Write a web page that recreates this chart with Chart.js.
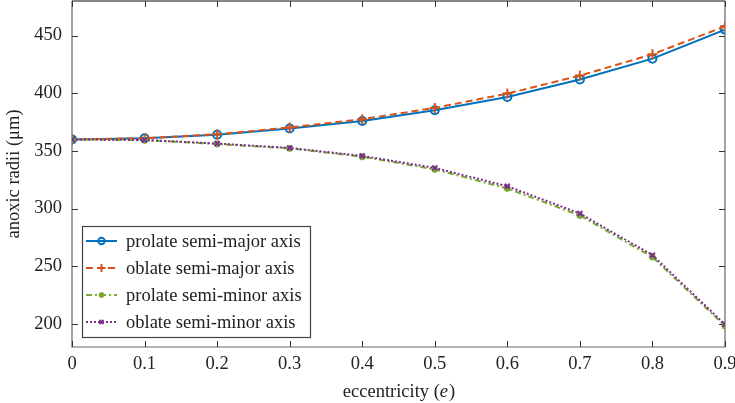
<!DOCTYPE html>
<html><head><meta charset="utf-8">
<script src="https://cdn.jsdelivr.net/npm/chart.js@4/dist/chart.umd.min.js"></script>
<style>html,body{margin:0;padding:0;background:#fff}#wrap{width:735px;height:403px}</style>
</head><body><div id="wrap"><canvas id="c" width="735" height="403"></canvas></div>
<script>
const eccentricity = [0, 0.1, 0.2, 0.3, 0.4, 0.5, 0.6, 0.7, 0.8, 0.9];
const prolateMajor = [360, 361, 364, 369.4, 376, 385.3, 396.8, 412, 430, 455.2];
const oblateMajor  = [360, 361, 364.5, 370.3, 377.5, 387.3, 399.7, 415.3, 433.8, 458];
const prolateMinor = [360, 359.3, 356, 352.2, 345, 334, 317.5, 294, 258, 198.2];
const oblateMinor  = [360, 359.5, 356.4, 352.6, 345.7, 335.3, 319.4, 295.8, 259.6, 199.6];
const seriesNames = ['prolate semi-major axis', 'oblate semi-major axis', 'prolate semi-minor axis', 'oblate semi-minor axis'];
const xTicks = [0, 0.1, 0.2, 0.3, 0.4, 0.5, 0.6, 0.7, 0.8, 0.9];
const yTicks = [200, 250, 300, 350, 400, 450];

const FONT = '"Liberation Serif", "Times New Roman", serif';
const FS = 18.5;
const pts = arr => arr.map((v, i) => ({x: eccentricity[i], y: v}));

const datasets = [
  {label: seriesNames[0], data: pts(prolateMajor), order: 3, borderColor: '#0072BD', borderWidth: 2, borderDash: [],
   pointStyle: 'circle', pointRadius: 4, pointBorderWidth: 2, pointBackgroundColor: 'rgba(0,0,0,0)', pointBorderColor: '#0072BD'},
  {label: seriesNames[1], data: pts(oblateMajor), order: 2, borderColor: '#D95319', borderWidth: 2, borderDash: [7, 4],
   pointStyle: 'cross', pointRadius: 5, pointBorderWidth: 2, pointBackgroundColor: '#D95319', pointBorderColor: '#D95319'},
  {label: seriesNames[2], data: pts(prolateMinor), order: 1, borderColor: '#77AC30', borderWidth: 2, borderDash: [6, 3, 2, 3],
   pointStyle: 'star', pointRadius: 3.5, pointBorderWidth: 2, pointBackgroundColor: '#77AC30', pointBorderColor: '#77AC30'},
  {label: seriesNames[3], data: pts(oblateMinor), order: 0, borderColor: '#7E2F8E', borderWidth: 2, borderDash: [2, 2],
   pointStyle: 'crossRot', pointRadius: 3.5, pointBorderWidth: 2, pointBackgroundColor: '#7E2F8E', pointBorderColor: '#7E2F8E'}
];

const framePlugin = {
  id: 'frame',
  beforeDatasetsDraw(chart) {
    const {ctx, chartArea: a, scales: {x, y}} = chart;
    ctx.save();
    ctx.lineWidth = 1.2;
    ctx.strokeStyle = '#666';
    ctx.beginPath();
    ctx.moveTo(a.left, a.top); ctx.lineTo(a.left, a.bottom); ctx.lineTo(a.right, a.bottom); ctx.lineTo(a.right, a.top);
    ctx.stroke();
    ctx.strokeStyle = '#111';
    ctx.beginPath(); ctx.moveTo(a.left, a.top); ctx.lineTo(a.right, a.top); ctx.stroke();
    ctx.lineWidth = 1;
    ctx.strokeStyle = '#333';
    const tl = 6;
    ctx.beginPath();
    xTicks.forEach(t => {
      const px = Math.round(x.getPixelForValue(t)) + 0.5;
      ctx.moveTo(px, a.bottom); ctx.lineTo(px, a.bottom - tl);
      ctx.moveTo(px, a.top); ctx.lineTo(px, a.top + tl);
    });
    yTicks.forEach(t => {
      const py = Math.round(y.getPixelForValue(t)) + 0.5;
      ctx.moveTo(a.left, py); ctx.lineTo(a.left + tl, py);
      ctx.moveTo(a.right, py); ctx.lineTo(a.right - tl, py);
    });
    ctx.stroke();
    ctx.restore();
  },
  afterDraw(chart) {
    const {ctx, chartArea: a} = chart;
    ctx.save();
    ctx.fillStyle = '#222';
    ctx.textBaseline = 'middle';
    const cy = 392;
    const p1 = 'eccentricity (', p2 = 'e', p3 = ')';
    ctx.font = FS + 'px ' + FONT;
    const w1 = ctx.measureText(p1).width, w3 = ctx.measureText(p3).width;
    ctx.font = 'italic ' + FS + 'px ' + FONT;
    const w2 = ctx.measureText(p2).width;
    let sx = (a.left + a.right) / 2 - (w1 + w2 + w3) / 2;
    ctx.textAlign = 'left';
    ctx.font = FS + 'px ' + FONT; ctx.fillText(p1, sx, cy);
    ctx.font = 'italic ' + FS + 'px ' + FONT; ctx.fillText(p2, sx + w1, cy);
    ctx.font = FS + 'px ' + FONT; ctx.fillText(p3, sx + w1 + w2 + 1, cy);

    const bx = 82, by = 226, bw = 228, bh = 111;
    ctx.fillStyle = '#fff';
    ctx.fillRect(bx, by, bw, bh);
    ctx.strokeStyle = '#444';
    ctx.lineWidth = 1.2;
    ctx.strokeRect(bx + 0.5, by + 0.5, bw, bh);
    const rows = [241, 268, 295, 322];
    chart.data.datasets.forEach((ds, i) => {
      const ry = rows[i];
      ctx.save();
      ctx.strokeStyle = ds.borderColor;
      ctx.lineWidth = ds.borderWidth;
      ctx.setLineDash(ds.borderDash);
      ctx.beginPath(); ctx.moveTo(86, ry); ctx.lineTo(117, ry); ctx.stroke();
      ctx.setLineDash([]);
      ctx.strokeStyle = ds.pointBorderColor;
      ctx.fillStyle = ds.pointBackgroundColor;
      ctx.lineWidth = ds.pointBorderWidth;
      Chart.helpers.drawPoint(ctx, {pointStyle: ds.pointStyle, radius: ds.pointRadius * 0.8, borderWidth: ds.pointBorderWidth, rotation: 0}, 101.5, ry);
      ctx.restore();
      ctx.fillStyle = '#222';
      ctx.font = FS + 'px ' + FONT;
      ctx.textAlign = 'left';
      ctx.textBaseline = 'middle';
      ctx.fillText(ds.label, 126, ry + 1);
    });
    ctx.restore();
  }
};

const noPad = s => {
  s.paddingTop = 0; s.paddingBottom = 0; s.paddingLeft = 0; s.paddingRight = 0;
};

new Chart(document.getElementById('c'), {
  type: 'line',
  data: {datasets},
  options: {
    responsive: false,
    animation: false,
    devicePixelRatio: 1,
    layout: {autoPadding: false, padding: {left: 0, right: 10, top: 1, bottom: 0}},
    plugins: {legend: {display: false}, tooltip: {enabled: false}},
    scales: {
      x: {
        type: 'linear', min: 0, max: 0.9,
        afterBuildTicks: s => { s.ticks = xTicks.map(v => ({value: v})); },
        afterFit: s => { s.height = 56; noPad(s); },
        grid: {display: false, drawTicks: false},
        border: {display: false},
        ticks: {color: '#222', font: {family: FONT, size: FS}, padding: 6, maxRotation: 0,
                callback: v => String(v)}
      },
      y: {
        type: 'linear', min: 180, max: 480,
        afterBuildTicks: s => { s.ticks = yTicks.map(v => ({value: v})); },
        afterFit: s => { s.width = 72; noPad(s); },
        grid: {display: false, drawTicks: false},
        border: {display: false},
        ticks: {color: '#222', font: {family: FONT, size: FS}, padding: 10, callback: v => String(v)},
        title: {display: true, text: 'anoxic radii (μm)', color: '#222', font: {family: FONT, size: FS}, padding: {top: 3, bottom: 0}}
      }
    }
  },
  plugins: [framePlugin]
});
</script></body></html>
